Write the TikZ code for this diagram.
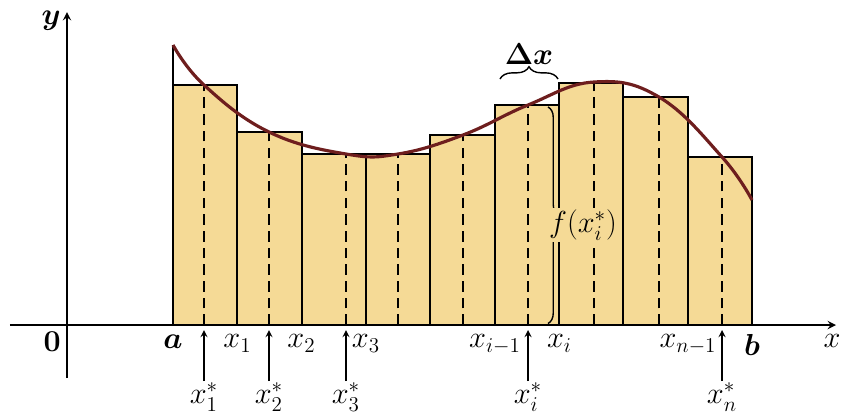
\documentclass[tikz,border=0pt]{standalone}
\usepackage{bm}
\usetikzlibrary{decorations.pathreplacing}
\definecolor{barfill}{HTML}{F5DA96}
\definecolor{curvecol}{HTML}{6E1E1E}
\begin{document}
\begin{tikzpicture}[>=stealth, font=\LARGE,
  bar/.style={draw, fill=barfill, line width=1.1pt},
  sample/.style={line width=1.1pt, dash pattern=on 6pt off 3.5pt},
  tick/.style={below, inner sep=2pt}]
\useasboundingbox (-1.34,-1.86) rectangle (15.6,6.5);
% rectangles
\foreach \h [count=\i from 0] in {4.80,3.86,3.42,3.42,3.80,4.40,4.84,4.56,3.36}
{
    \draw[bar]({2.12+\i*1.2867},0) rectangle ++(1.2867,\h);
}
\draw[line width=1.1pt](2.12,4.8)--(2.12,5.6);
\foreach \s/\h in {2.74/4.80,4.04/3.86,5.58/3.42,6.62/3.42,7.92/3.80,9.22/4.40,10.54/4.84,11.84/4.56,13.10/3.36}
{
    \draw[sample](\s,0)--(\s,\h);
}
% axes and curve
\draw[->, line width=1.1pt](-1.14,0)--(15.38,0);
\draw[->, line width=1.1pt](0,-1.06)--(0,6.26);
\node[left](ylab) at (0,6.08){$\bm{y}$};
\node[below left](O) at (0,0){\bfseries 0};
\node(xlab) at (15.3,-0.32){$x$};
\draw[curvecol, line width=1.8pt]plot[smooth, tension=.7]coordinates{(2.12,5.6) (2.74,4.80) (4.04,3.86) (5.58,3.42) (6.62,3.42) (7.92,3.80) (9.22,4.40) (10.54,4.86) (11.84,4.56) (13.10,3.36) (13.70,2.5)};
% labels on the axis
\foreach \x/\t/\n in {2.12/{$\bm{a}$}/a, 3.41/$x_1$/x1, 4.69/$x_2$/x2, 5.98/$x_3$/x3, 8.56/$x_{i-1}$/xim, 9.85/$x_i$/xi, 12.42/$x_{n-1}$/xnm, 13.70/{$\bm{b}$}/b}
{
    \node[tick](l\n) at (\x,-0.12){\t};
}
\foreach \s/\t/\n in {2.74/1/1, 4.04/2/2, 5.58/3/3, 9.22/i/i, 13.10/n/n}
{
    \coordinate(p\n) at (\s,-0.1);
    \node[below, inner sep=1pt](s\n) at (\s,-1.12){$x_\t^*$};
    \draw[->, line width=.8pt](s\n.north)--(p\n);
}
% braces
\draw[decorate, decoration={brace, amplitude=7pt}, line width=.8pt](8.66,4.92)--(9.82,4.92);
\node[above](dx) at (9.24,5.08){$\bm{\Delta x}$};
\draw[decorate, decoration={brace, amplitude=6pt}, line width=.8pt](9.62,4.36)--(9.62,0.03);
\node[fill=barfill, inner sep=1pt](fx) at (10.32,2.0){$f(x_i^*)$};
\end{tikzpicture}
\end{document}
